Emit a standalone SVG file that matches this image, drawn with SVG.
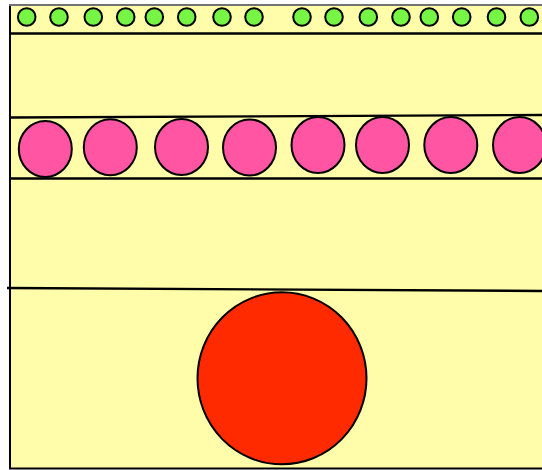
<svg xmlns="http://www.w3.org/2000/svg" width="542" height="470" viewBox="0 0 542 470">
<style>
.g{fill:#77F544;stroke:#000;stroke-width:2}
.p{fill:#FF55A2;stroke:#000;stroke-width:2}
.ln{stroke:#000;stroke-width:2.4;fill:none}
</style>
<rect width="542" height="470" fill="#fff"/>
<g id="frame">
<rect x="10" y="5" width="540" height="463.5" fill="#FFFCAA" stroke="#000" stroke-width="2"/>
<line x1="9" y1="5" x2="542" y2="5" stroke="#999" stroke-width="1.5"/>
</g>
<g id="lines">
<line class="ln" x1="10" y1="33.5" x2="542" y2="33.5"/>
<line class="ln" x1="10" y1="117.5" x2="542" y2="115"/>
<line class="ln" x1="10" y1="178.5" x2="542" y2="178.5"/>
<line class="ln" x1="7" y1="288" x2="542" y2="291"/>
</g>
<g id="green">
<circle class="g" cx="26.7" cy="17" r="8.8"/>
<circle class="g" cx="59" cy="17" r="8.8"/>
<circle class="g" cx="93.3" cy="17" r="8.8"/>
<circle class="g" cx="125.7" cy="17" r="8.8"/>
<circle class="g" cx="154.3" cy="17" r="8.8"/>
<circle class="g" cx="186.7" cy="17" r="8.8"/>
<circle class="g" cx="222" cy="17" r="8.8"/>
<circle class="g" cx="254" cy="17" r="8.8"/>
<circle class="g" cx="302" cy="17" r="8.8"/>
<circle class="g" cx="334" cy="17" r="8.8"/>
<circle class="g" cx="368.3" cy="17" r="8.8"/>
<circle class="g" cx="401" cy="17" r="8.8"/>
<circle class="g" cx="429.3" cy="17" r="8.8"/>
<circle class="g" cx="461.7" cy="17" r="8.8"/>
<circle class="g" cx="496.5" cy="17" r="8.8"/>
<circle class="g" cx="529.3" cy="17" r="8.8"/>
</g>
<g id="pink">
<ellipse class="p" cx="45.3" cy="149" rx="26.5" ry="28"/>
<ellipse class="p" cx="110.3" cy="147.2" rx="26.5" ry="28"/>
<ellipse class="p" cx="181.5" cy="147" rx="26.5" ry="28"/>
<ellipse class="p" cx="249.5" cy="147.5" rx="26.5" ry="28"/>
<ellipse class="p" cx="318" cy="145" rx="26.5" ry="28"/>
<ellipse class="p" cx="382.5" cy="145" rx="26.5" ry="28"/>
<ellipse class="p" cx="450.8" cy="145" rx="26.5" ry="28"/>
<ellipse class="p" cx="519.5" cy="145" rx="26.5" ry="28"/>
</g>
<g id="red">
<ellipse cx="282" cy="378.3" rx="84.5" ry="86" fill="#FF2A00" stroke="#000" stroke-width="2"/>
</g>
</svg>
